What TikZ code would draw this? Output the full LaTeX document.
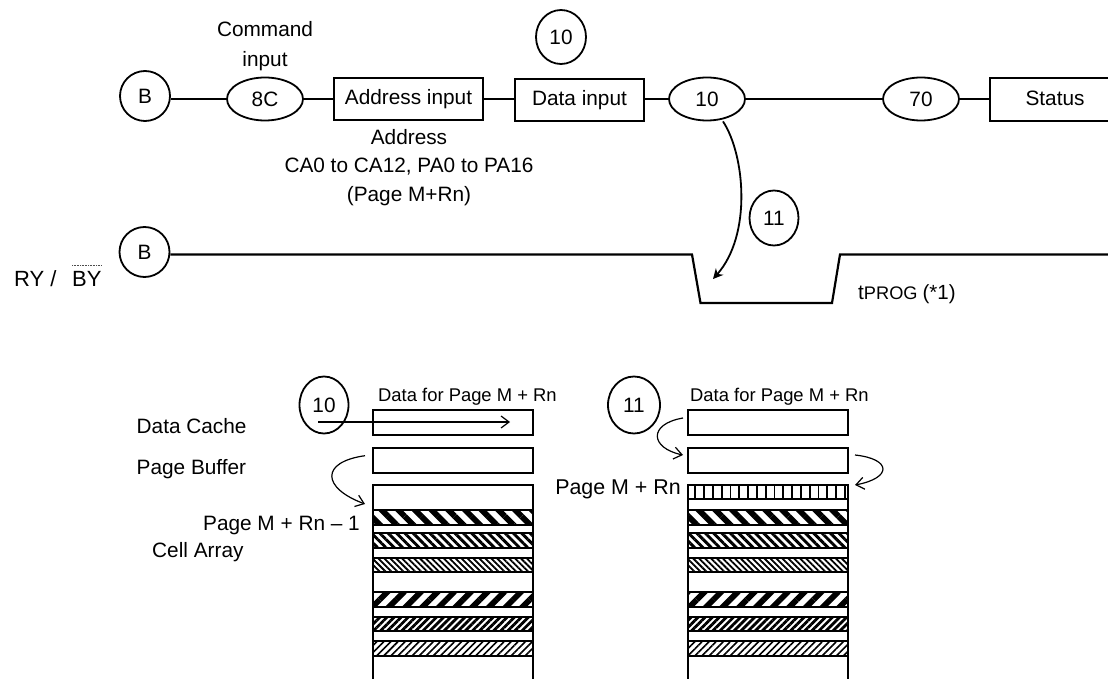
\documentclass[tikz,border=0pt]{standalone}
\usepackage{fontspec}
\setmainfont{Liberation Sans}
\usetikzlibrary{arrows.meta,positioning,shapes.geometric,patterns.meta}
\tikzset{
  flow-circle/.style={draw=black, fill=white, ellipse, line width=1.8pt, inner sep=0pt, minimum width=50pt, minimum height=50pt, font=\fontsize{20.8}{24}\selectfont},
  flow-oval/.style={draw=black, fill=white, ellipse, line width=1.8pt, inner sep=0pt, minimum width=76pt, minimum height=43pt, font=\fontsize{20.8}{24}\selectfont},
  flow-box/.style={draw=black, fill=white, line width=2pt, inner sep=0pt, minimum height=42pt, text height=15pt, text depth=4.4pt, font=\fontsize{20.8}{24}\selectfont},
  cell-box/.style={draw=black, line width=2pt, inner sep=0pt, minimum width=160pt, minimum height=25pt},
  cell-band/.style={draw=black, line width=2pt, inner sep=0pt, minimum width=160pt, minimum height=14.5pt},
  label/.style={inner sep=0pt, font=\fontsize{20.8}{24}\selectfont},
  small-label/.style={inner sep=0pt, font=\fontsize{18.4}{22}\selectfont},
  flow-wire/.style={line width=2.2pt},
  move-arrow/.style={-{Straight Barb[length=8pt,width=12pt]}, line width=1.2pt},
  hatch-a/.style={pattern={Lines[angle=-45,distance=11.8pt,line width=5.8pt]}},
  hatch-b/.style={pattern={Lines[angle=-45,distance=5.9pt,line width=2.9pt]}},
  hatch-c/.style={pattern={Lines[angle=-45,distance=4.2pt,line width=1.8pt]}},
  hatch-d/.style={pattern={Lines[angle=45,distance=11.8pt,line width=5.8pt]}},
  hatch-e/.style={pattern={Lines[angle=45,distance=5pt,line width=2.8pt]}},
  hatch-f/.style={pattern={Lines[angle=45,distance=5pt,line width=1.6pt]}},
  hatch-g/.style={pattern={Lines[angle=90,distance=8.8pt,line width=1.8pt]}}
}
\begin{document}
\begin{tikzpicture}[>=Latex, x=1pt, y=-1pt]
  \useasboundingbox (0,0) rectangle (1108,679);

  % Command sequence
  \node[flow-circle] (bin) at (145,96) {B};
  \node[flow-oval] (c8c) at (265,99) {8C};
  \node[flow-box, minimum width=149pt] (addr) at (408.5,99) {Address input};
  \node[flow-box, minimum width=129pt] (data) at (579.5,100) {Data input};
  \node[flow-oval] (c10) at (707,99) {10};
  \node[flow-oval] (c70) at (921,99) {70};
  \node[flow-box, minimum width=130pt, minimum height=43pt] (stat) at (1055,100) {Status};
  \draw[flow-wire] (bin.east |- c8c.west) -- (c8c.west);
  \draw[flow-wire] (c8c.east) -- (addr.west |- c8c.east);
  \draw[flow-wire] (addr.east) -- (data.west |- addr.east);
  \draw[flow-wire] (data.east |- c10.west) -- (c10.west);
  \draw[flow-wire] (c10) -- (c70);
  \draw[flow-wire] (c70.east) -- (stat.west |- c70.east);

  % Labels round the sequence
  \node[label, anchor=base] (cmd) at (265,36.7) {Command};
  \node[label, anchor=base] (cmi) at (265,67) {input};
  \node[flow-circle, minimum height=54pt] (n10) at (561,37) {10};
  \node[label] (adr1) at (409,137) {Address};
  \node[label] (adr2) at (409,167) {CA0 to CA12, PA0 to PA16};
  \node[label] (adr3) at (409,196) {(Page M+Rn)};

  % Ready/busy line
  \node[flow-circle] (bout) at (144.5,252) {B};
  \node[label, anchor=base west, font=\fontsize{22}{24}\selectfont] (ry) at (14,286) {RY /};
  \node[label, anchor=base west, font=\fontsize{22}{24}\selectfont] (by) at (72,286) {BY};
  \draw[densely dotted, line width=0.6pt, black!70] ([yshift=5pt]by.north west) -- ([yshift=5pt]by.north east);
  \coordinate (rbend) at (1108,254.5);
  \draw[line width=2.2pt] (bout.east |- rbend) -- (692,254.5) -- (700.5,303) -- (832,303) -- (840,254.5) -- (rbend);
  \node[label, anchor=base west] (tprog) at (858,299) {t\fontsize{18.2}{20}\selectfont PROG \fontsize{20.5}{20}\selectfont (*1)};

  % Program arrow
  \coordinate (ptip) at (713,279);
  \draw[line width=1.8pt, -{Stealth[length=10pt,width=10pt]}] ([xshift=16pt]c10.south) .. controls (745,155) and (752,235) .. (ptip);
  \node[flow-circle, minimum width=49pt, minimum height=55pt] (n11) at (774,218) {11};

  % Left cell array
  \node[label, anchor=base west] (dcl) at (136.5,433) {Data Cache};
  \node[label, anchor=base west] (pbl) at (136.5,474) {Page Buffer};
  \node[label, anchor=base east] (pml) at (360,530) {Page M + Rn -- 1};
  \node[label, anchor=base west] (cal) at (152,557) {Cell Array};
  \node[small-label, anchor=base west] (dpl) at (378,401.7) {Data for Page M + Rn};
  \node[cell-box] (dca) at (453,422.5) {};
  \node[cell-box] (pba) at (453,460) {};
  \draw[line width=2pt] (373,679) -- (373,485) -- (533,485) -- (533,679);
  \node[cell-band, hatch-a] (a1) at (453,517.5) {};
  \node[cell-band, hatch-b] (a2) at (453,540.5) {};
  \node[cell-band, hatch-c] (a3) at (453,565) {};
  \node[cell-band, hatch-d] (a4) at (453,599.5) {};
  \node[cell-band, hatch-e] (a5) at (453,624) {};
  \node[cell-band, hatch-f] (a6) at (453,648.5) {};

  % Left arrows
  \node[flow-circle, minimum width=49pt, minimum height=57pt, fill=none] (n10b) at (324,405) {10};
  \coordinate (afrom) at (318,422);
  \coordinate (ato) at (510,422);
  \draw[move-arrow] (afrom) -- (ato);
  \coordinate (bfrom) at (365,455.7);
  \coordinate (bto) at (365,504);
  \draw[move-arrow] (bfrom) .. controls (320,462) and (322,488) .. (bto);

  % Right cell array
  \node[small-label, anchor=base west] (dpr) at (690,401.7) {Data for Page M + Rn};
  \node[label, anchor=base east, font=\fontsize{21.4}{24}\selectfont] (pmr) at (681,494) {Page M + Rn};
  \node[cell-box] (dcb) at (768,422.5) {};
  \node[cell-box] (pbb) at (768,460) {};
  \draw[line width=2pt] (688,679) -- (688,485) -- (848,485) -- (848,679);
  \node[cell-band, hatch-g] (b0) at (768,492) {};
  \node[cell-band, hatch-a] (b1) at (768,517.5) {};
  \node[cell-band, hatch-b] (b2) at (768,540.5) {};
  \node[cell-band, hatch-c] (b3) at (768,565) {};
  \node[cell-band, hatch-d] (b4) at (768,599.5) {};
  \node[cell-band, hatch-e] (b5) at (768,624) {};
  \node[cell-band, hatch-f] (b6) at (768,648.5) {};

  % Right arrows
  \node[flow-circle, minimum width=52pt, minimum height=57pt, fill=none] (n11b) at (634,405) {11};
  \coordinate (cfrom) at (683,418);
  \coordinate (cto) at (683,455);
  \draw[move-arrow] (cfrom) .. controls (648,424) and (650,448) .. (cto);
  \coordinate (dfrom) at (855,455);
  \coordinate (dto) at (855,485);
  \draw[move-arrow] (dfrom) .. controls (892,459) and (892,478) .. (dto);
\end{tikzpicture}
\end{document}
